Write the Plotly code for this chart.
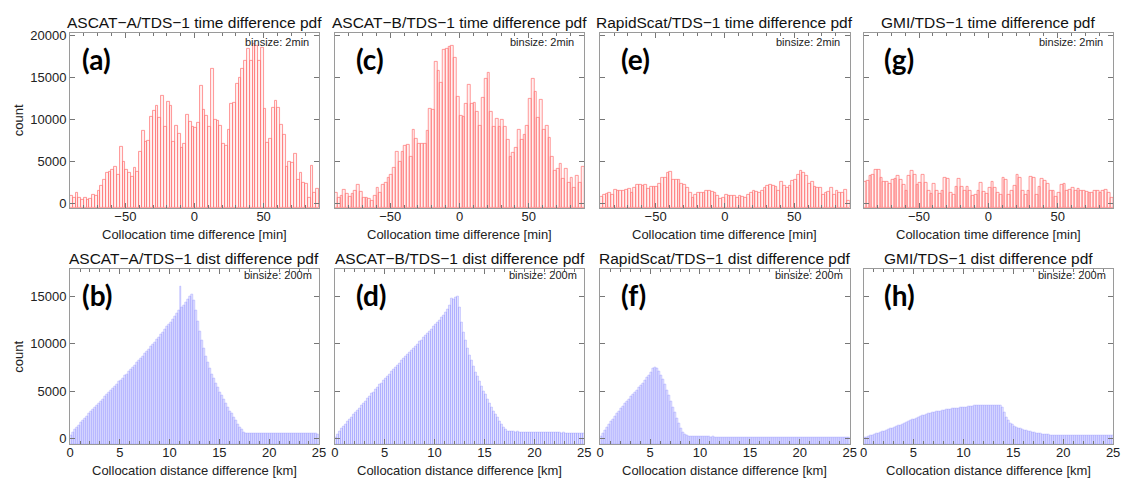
import numpy as np
import plotly.graph_objects as go

W, H = 1133, 487

# ---------------- data ----------------
time_bin = 2.0      # minutes
dist_bin = 0.2      # km
time_edges_lo = -90
dist_edges_lo = 0

titles_top = ["ASCAT\u2212A/TDS\u22121 time difference pdf", "ASCAT\u2212B/TDS\u22121 time difference pdf",
              "RapidScat/TDS\u22121 time difference pdf", "GMI/TDS\u22121 time difference pdf"]
titles_bot = ["ASCAT\u2212A/TDS\u22121 dist difference pdf", "ASCAT\u2212B/TDS\u22121 dist difference pdf",
              "RapidScat/TDS\u22121 dist difference pdf", "GMI/TDS\u22121 dist difference pdf"]
letters_top = ["(a)", "(c)", "(e)", "(g)"]
letters_bot = ["(b)", "(d)", "(f)", "(h)"]

ascat_a_time = [950, 670, 1300, 630, 470, 670, 430, 550, 1000, 950,
                1450, 2100, 2800, 3600, 3800, 4000, 4300, 3400, 6700, 4900,
                4000, 3600, 3200, 4200, 3800, 6200, 8700, 7300, 7500, 10300,
                11000, 11600, 10200, 12800, 9100, 12100, 11600, 7400, 9200, 8300,
                6600, 7100, 10600, 9700, 9100, 9000, 9600, 14000, 11200, 10500,
                9100, 16100, 10000, 9900, 9300, 7100, 6900, 8800, 11900, 12000,
                14300, 15000, 16000, 17000, 18400, 17000, 19000, 18800, 17000, 18600,
                11300, 7200, 7700, 11400, 12200, 11400, 9400, 8200, 4400, 4900,
                4800, 5900, 2800, 3600, 2400, 2300, 600, 4500, 1300, 1700]

ascat_b_time = [1250, 700, 900, 1600, 1100, 750, 1150, 1500, 2200, 1400,
                650, 600, 500, 350, 850, 1800, 1200, 2200, 2400, 3000,
                3400, 4200, 6200, 4900, 6200, 6900, 7000, 5500, 8800, 7700,
                7100, 7100, 7100, 8600, 11300, 11200, 16900, 15800, 14400, 18300,
                18500, 18700, 18800, 17400, 12700, 10500, 10300, 11900, 14200, 11900,
                12000, 10900, 9200, 12600, 14900, 15600, 10900, 9100, 10100, 9100,
                10000, 9100, 7600, 5600, 6000, 6600, 8800, 7600, 8200, 9200,
                12500, 14900, 13300, 10200, 12300, 8800, 9200, 7800, 5600, 3900,
                4100, 4700, 2900, 4100, 2500, 3100, 1800, 3300, 2400, 4300]

rapidscat_time = [800, 1000, 1100, 1250, 1000, 1650, 1450, 1450, 1500, 1600,
                  1750, 1300, 1800, 2200, 2200, 2150, 2200, 1750, 2000, 1950,
                  2000, 2350, 3000, 3000, 3600, 3800, 2800, 2800, 2800, 2300,
                  2200, 1900, 1300, 700, 1000, 1200, 1300, 1300, 1450, 1550,
                  1400, 1200, 850, 550, 600, 1000, 900, 900, 950, 650,
                  850, 800, 650, 1000, 1250, 1500, 1400, 1300, 1450, 1850,
                  2100, 2200, 2150, 2000, 1450, 2600, 2100, 1900, 2100, 2700,
                  2750, 3400, 3900, 3600, 3300, 2300, 2600, 2000, 1900, 1900,
                  1050, 1200, 1400, 1900, 1050, 1450, 1300, 1250, 1600, 350]

gmi_time = [2600, 2700, 3300, 3400, 4000, 4000, 3000, 2600, 2600, 2300,
            2800, 2900, 3300, 2800, 2200, 1500, 3300, 3900, 3400, 2200,
            2400, 3400, 2400, 1500, 1150, 2300, 1500, 1150, 1500, 3000,
            2900, 1250, 1000, 2000, 2900, 2000, 1500, 2000, 1500, 850,
            1050, 1500, 2500, 1400, 1150, 1850, 2600, 1900, 1250, 1000,
            3000, 2800, 1050, 1450, 2100, 3400, 3000, 1450, 1050, 1500,
            3200, 3100, 1000, 2000, 2900, 2700, 2300, 1500, 1450, 750,
            1250, 2200, 2350, 1500, 1650, 1850, 1450, 1700, 1500, 1450,
            1400, 1250, 1250, 1450, 1500, 1250, 1450, 1600, 1250, 600]

ascat_a_dist = [300, 600, 900, 1150, 1400, 1650, 1900, 2100, 2350, 2600,
                2800, 3050, 3250, 3500, 3700, 3950, 4150, 4400, 4600, 4850,
                5050, 5300, 5500, 5750, 6000, 6150, 6350, 6600, 6800, 7100,
                7300, 7550, 7750, 8000, 8200, 8450, 8650, 8950, 9200, 9450,
                9700, 9950, 10150, 10450, 10700, 11000, 11200, 11500, 11800, 12000,
                12300, 12600, 12900, 13200, 13500, 16100, 13800, 14100, 14400, 14700,
                15000, 15200, 14600, 13500, 12400, 11300, 10300, 9500, 8700, 8000,
                7400, 6800, 6300, 5800, 5400, 4900, 4500, 4100, 3700, 3300,
                2900, 2600, 2200, 1900, 1500, 1200, 900, 600, 520, 500,
                520, 510, 500, 510, 500, 490, 500, 510, 500, 490,
                500, 490, 500, 510, 490, 500, 490, 480, 500, 490,
                480, 490, 500, 480, 490, 480, 470, 490, 480, 470,
                480, 470, 480, 470, 460]

ascat_b_dist = [150, 450, 750, 1000, 1250, 1500, 1750, 2000, 2250, 2500,
                2700, 2950, 3200, 3450, 3700, 3950, 4200, 4450, 4700, 4900,
                5150, 5400, 5650, 5850, 6100, 6350, 6550, 6800, 7050, 7300,
                7500, 7750, 7950, 8200, 8400, 8650, 8850, 9050, 9300, 9500,
                9750, 9950, 10200, 10400, 10650, 10850, 11100, 11300, 11550, 11800,
                12000, 12250, 12500, 12750, 13000, 13300, 13600, 14000, 14800, 14700,
                14900, 15000, 13800, 12300, 11200, 10300, 9500, 8800, 8200, 7600,
                7000, 6500, 6000, 5500, 5000, 4600, 4100, 3700, 3300, 2900,
                2500, 2200, 1800, 1500, 1200, 900, 750, 700, 700, 700,
                680, 690, 670, 680, 660, 670, 650, 660, 650, 640,
                650, 630, 640, 620, 630, 610, 620, 600, 610, 590,
                600, 580, 590, 570, 580, 560, 570, 550, 560, 540,
                550, 530, 540, 520, 500]

rapidscat_dist = [250, 550, 850, 1150, 1450, 1750, 2050, 2350, 2650, 2900,
                  3150, 3400, 3650, 3900, 4150, 4400, 4600, 4850, 5100, 5350,
                  5600, 5850, 6100, 6400, 6700, 7000, 7350, 7500, 7400, 7100,
                  6700, 6200, 5700, 5100, 4500, 3900, 3300, 2700, 2100, 1550,
                  1050, 650, 400, 280, 220, 200, 190, 180, 180, 170,
                  170, 160, 170, 160, 160, 150, 160, 150, 150, 150,
                  140, 150, 140, 140, 150, 140, 130, 140, 130, 140,
                  130, 130, 140, 130, 120, 130, 130, 120, 130, 120,
                  120, 130, 120, 120, 110, 120, 120, 110, 120, 110,
                  110, 120, 110, 110, 100, 110, 110, 100, 110, 100,
                  100, 110, 100, 100, 100, 100, 100, 90, 100, 100,
                  90, 100, 90, 90, 100, 90, 90, 90, 90, 90,
                  90, 80, 90, 90, 80]

gmi_dist = [50, 120, 200, 270, 330, 400, 470, 550, 620, 700,
            780, 850, 930, 1000, 1080, 1150, 1250, 1320, 1400, 1500,
            1600, 1680, 1780, 1870, 1950, 2050, 2120, 2200, 2300, 2400,
            2450, 2550, 2620, 2680, 2720, 2780, 2820, 2860, 2900, 2950,
            2980, 3020, 3050, 3080, 3120, 3150, 3180, 3200, 3230, 3270,
            3300, 3320, 3350, 3380, 3400, 3430, 3450, 3470, 3500, 3500,
            3520, 3520, 3500, 3530, 3520, 3500, 3500, 3480, 3450, 3300,
            2700, 2200, 1850, 1600, 1450, 1300, 1200, 1100, 1020, 950,
            880, 820, 760, 700, 650, 600, 560, 520, 480, 450,
            420, 400, 380, 360, 350, 330, 320, 310, 300, 300,
            300, 290, 300, 290, 300, 290, 290, 300, 290, 290,
            280, 290, 290, 280, 290, 280, 290, 280, 280, 290,
            280, 280, 290, 280, 270]

time_series = [ascat_a_time, ascat_b_time, rapidscat_time, gmi_time]
dist_series = [ascat_a_dist, ascat_b_dist, rapidscat_dist, gmi_dist]

time_ticks = [-50, 0, 50]
dist_ticks = [0, 5, 10, 15, 20, 25]
count_ticks_top = [0, 5000, 10000, 15000, 20000]
count_ticks_bot = [0, 5000, 10000, 15000]

# ---------------- layout geometry (pixels) ----------------
col_px = [(66.7, 318.0), (334.0, 586.0), (602.0, 854.0), (868.0, 1120.0)]
row_px = [(29.3, 207.0), (269.3, 446.7)]
yr_top = [-553, 20353]
yr_bot = [-625, 17854]

def fx(px):
    return px / W

def fy(py):
    return 1 - py / H

FONT = "Liberation Sans, Arial, Helvetica, sans-serif"
RED_FILL = "rgba(255,120,120,0.10)"
RED_LINE = "rgba(255,120,120,0.75)"
BLUE_FILL = "rgba(130,130,255,0.22)"
BLUE_LINE = "rgba(130,130,255,0.55)"

fig = go.Figure()
layout = dict(
    width=W, height=H, margin=dict(l=0, r=0, t=0, b=0),
    paper_bgcolor="white", plot_bgcolor="white",
    showlegend=False, bargap=0, barmode="overlay",
    font=dict(family=FONT, size=13, color="#222"),
)
annotations = []

axis_common = dict(showgrid=False, zeroline=False, showline=True, linecolor="#9a9a9a",
                   linewidth=1, mirror="allticks", ticks="inside", ticklen=5,
                   tickcolor="#777", tickwidth=1,
                   tickfont=dict(family=FONT, size=13, color="#222"))

for r in range(2):
    for c in range(4):
        idx = r * 4 + c + 1
        xs = "" if idx == 1 else str(idx)
        x0, x1 = col_px[c]
        ytop, ybot = row_px[r]
        if r == 0:
            vals = time_series[c]
            centers = time_edges_lo + time_bin * (np.arange(len(vals)) + 0.5)
            width = time_bin
            fill, line, lw = RED_FILL, RED_LINE, 1
            xrange_ = [-90, 90]
            xt = time_ticks
            minor = dict(dtick=10, tick0=0, ticks="inside", ticklen=3, tickcolor="#777")
            yr = yr_top
            yt = count_ticks_top
            title = titles_top[c]
            letter = letters_top[c]
            xlabel = "Collocation time difference [min]"
            binlabel = "binsize: 2min"
        else:
            vals = dist_series[c]
            centers = dist_edges_lo + dist_bin * (np.arange(len(vals)) + 0.5)
            width = dist_bin
            fill, line, lw = BLUE_FILL, BLUE_LINE, 0.6
            xrange_ = [0, 25]
            xt = dist_ticks
            minor = dict(dtick=1, tick0=0, ticks="inside", ticklen=3, tickcolor="#777")
            yr = yr_bot
            yt = count_ticks_bot
            title = titles_bot[c]
            letter = letters_bot[c]
            xlabel = "Collocation distance difference [km]"
            binlabel = "binsize: 200m"

        # bars are drawn from the bottom of the frame up to the count value
        base = yr[0]
        fig.add_trace(go.Bar(x=centers, y=np.array(vals, dtype=float) - base, base=base, width=width,
                             marker=dict(color=fill, line=dict(color=line, width=lw)),
                             xaxis="x" + xs, yaxis="y" + xs, hoverinfo="skip"))

        layout["xaxis" + xs] = dict(axis_common, domain=[fx(x0), fx(x1)], range=xrange_,
                                    anchor="y" + xs, tickvals=xt, minor=minor,
                                    ticklabelstandoff=-4)
        layout["yaxis" + xs] = dict(axis_common, domain=[fy(ybot), fy(ytop)], range=yr,
                                    anchor="x" + xs, tickvals=yt, tickformat="d",
                                    showticklabels=(c == 0), ticklabelstandoff=0)

        cx = (x0 + x1) / 2
        annotations.append(dict(text=title, x=fx(cx), y=fy(ytop - 11), xref="paper", yref="paper",
                                xanchor="center", yanchor="middle", showarrow=False,
                                font=dict(family=FONT, size=15.5, color="#111")))
        annotations.append(dict(text=xlabel, x=fx(cx), y=fy(ybot + 26.5), xref="paper", yref="paper",
                                xanchor="center", yanchor="middle", showarrow=False,
                                font=dict(family=FONT, size=13, color="#222")))
        lx = x0 + (10 if c == 0 else 19)
        annotations.append(dict(text="<b>" + letter + "</b>", x=fx(lx), y=fy(ytop + 26),
                                xref="paper", yref="paper", xanchor="left", yanchor="middle",
                                showarrow=False, font=dict(family="Lato, Open Sans, sans-serif", size=28, color="black")))
        annotations.append(dict(text=binlabel, x=fx(x1 - (8 if r == 0 else 5)), y=fy(ytop + (9 if r == 0 else 6)),
                                xref="paper", yref="paper", xanchor="right", yanchor="middle",
                                showarrow=False, font=dict(family=FONT, size=11, color="#222")))
    ytop, ybot = row_px[r]
    annotations.append(dict(text="count", x=fx(15), y=fy((ytop + ybot) / 2), xref="paper", yref="paper",
                            xanchor="center", yanchor="middle", textangle=-90, showarrow=False,
                            font=dict(family=FONT, size=13, color="#222")))

layout["annotations"] = annotations
fig.update_layout(**layout)
fig.write_html("out.html")
